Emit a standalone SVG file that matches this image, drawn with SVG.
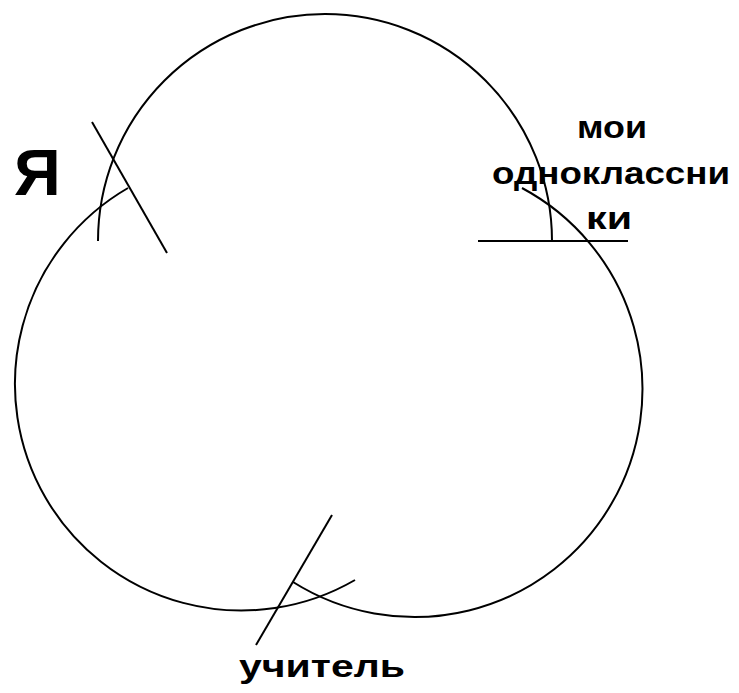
<svg xmlns="http://www.w3.org/2000/svg" width="739" height="693" viewBox="0 0 739 693">
<style>
.arc{fill:none;stroke:#000;stroke-width:2}
.ln{stroke:#000;stroke-width:2;fill:none}
.lbl{font-family:"Liberation Sans",Arial,sans-serif;font-weight:bold;fill:#000}
</style>
<rect width="739" height="693" fill="#fff"/>
<g id="circle-top"><path class="arc" d="M98,241 A227,227 0 0 1 552,241"/></g>
<g id="circle-left"><path class="arc" d="M128,188 A226,226 0 1 0 355,580"/></g>
<g id="circle-right"><path class="arc" d="M522,188 A228,228 0 1 1 293,582"/></g>
<g id="connectors">
<line class="ln" x1="92" y1="122" x2="167" y2="253"/>
<line class="ln" x1="478" y1="241" x2="628" y2="241"/>
<line class="ln" x1="332" y1="515" x2="256" y2="645"/>
</g>
<g id="label-ya"><text class="lbl" x="14" y="195" font-size="65">Я</text></g>
<g id="label-classmates">
<text class="lbl" x="577" y="138" font-size="32" textLength="70" lengthAdjust="spacingAndGlyphs">мои</text>
<text class="lbl" x="492" y="184" font-size="32" textLength="238" lengthAdjust="spacingAndGlyphs">одноклассни</text>
<text class="lbl" x="586" y="229" font-size="32" textLength="46" lengthAdjust="spacingAndGlyphs">ки</text>
</g>
<g id="label-teacher"><text class="lbl" x="239" y="677" font-size="32" textLength="166" lengthAdjust="spacingAndGlyphs">учитель</text></g>
</svg>
